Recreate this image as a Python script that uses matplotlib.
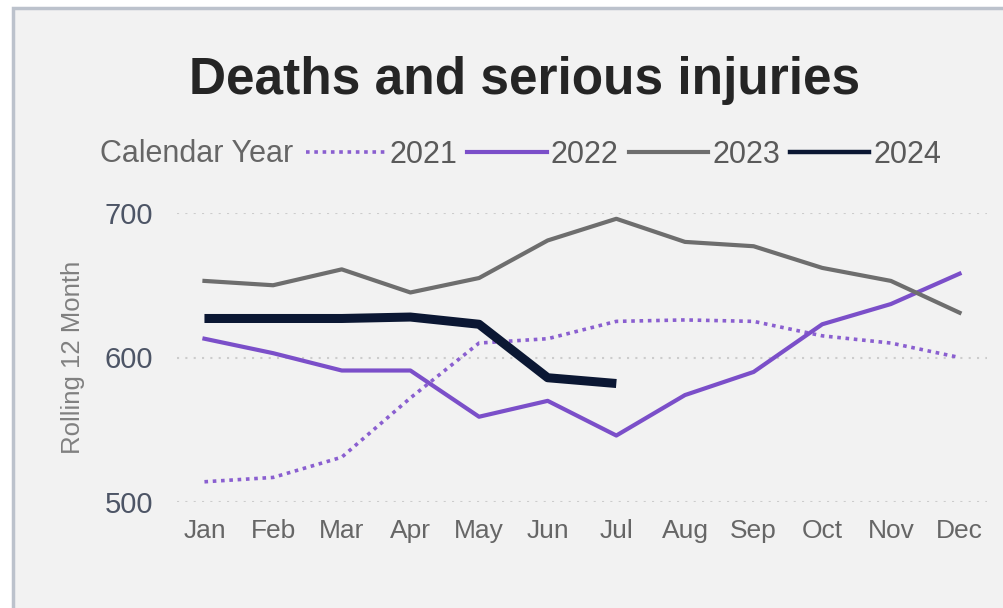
import matplotlib.pyplot as plt
from matplotlib.patches import Rectangle
from matplotlib.lines import Line2D

plt.rcParams['font.family'] = ['Liberation Sans', 'DejaVu Sans']

months = ['Jan', 'Feb', 'Mar', 'Apr', 'May', 'Jun', 'Jul', 'Aug', 'Sep', 'Oct', 'Nov', 'Dec']
y2021 = [514, 517, 531, 572, 610, 613, 625, 626, 625, 615, 610, 600]
y2022 = [613, 603, 591, 591, 559, 570, 546, 574, 590, 623, 637, 658]
y2023 = [653, 650, 661, 645, 655, 681, 696, 680, 677, 662, 653, 631]
y2024 = [627, 627, 627, 628, 623, 586, 582]
years = ['2021', '2022', '2023', '2024']

fig = plt.figure(figsize=(10.04, 6.08), dpi=100)
fig.patch.set_facecolor('white')

# card background with border on left/top
card = Rectangle((13 / 1004, -0.05), 1.05, 1 - 8 / 608 + 0.05,
                 transform=fig.transFigure, facecolor='#f2f2f2',
                 edgecolor='#bcc2cc', linewidth=2.5, zorder=-10)
fig.patches.append(card)

ax = fig.add_axes([177 / 1004, 1 - 502 / 608, (987 - 177) / 1004, (502 - 213) / 608])
ax.set_facecolor('none')

x = list(range(len(months)))
ax.plot(x, y2021, color='#8a5fd0', lw=2.6, linestyle=(0, (1, 1.3)), label='2021')
ax.plot(x, y2022, color='#7b4fc9', lw=3, label='2022')
ax.plot(x, y2023, color='#6e6e6e', lw=3, label='2023')
ax.plot(x[:len(y2024)], y2024, color='#0b1733', lw=6.5, label='2024',
        solid_capstyle='butt')

ax.set_xlim(-0.4, 11.4)
ax.set_ylim(500, 700)
ax.set_yticks([500, 600, 700])
ax.set_xticks(x)
ax.set_xticklabels(months)
ax.tick_params(axis='x', length=0, pad=12, labelsize=19, labelcolor='#666666')
ax.tick_params(axis='y', length=0, pad=17, labelsize=21, labelcolor='#4d5566')
for s in ax.spines.values():
    s.set_visible(False)
ax.grid(axis='y', color='#cccccc', linestyle=(0, (1, 3)), lw=1.5)
ax.set_axisbelow(True)

fig.text(73 / 1004, 1 - 357 / 608, 'Rolling 12 Month', rotation=90, ha='center',
         va='center', fontsize=18.5, color='#808080')

fig.text(0.522, 0.868, 'Deaths and serious injuries', ha='center', va='center',
         fontsize=37, fontweight='bold', color='#252525')

fig.text(100 / 1004, 1 - 154 / 608, 'Calendar Year', ha='left', va='center',
         fontsize=22, color='#666666')
handles = [Line2D([], [], color='#8a5fd0', lw=2.6, linestyle=(0, (1, 1.3))),
           Line2D([], [], color='#7b4fc9', lw=3),
           Line2D([], [], color='#6e6e6e', lw=3),
           Line2D([], [], color='#0b1733', lw=3.2)]
fig.legend(handles, years, loc='center left', bbox_to_anchor=(306 / 1004, 1 - 155 / 608),
           ncol=4, frameon=False, fontsize=22, labelcolor='#5a5a5a',
           handlelength=2.6, handletextpad=0.13, columnspacing=0.33, borderpad=0,
           borderaxespad=0)

fig.savefig('out.png', dpi=100, facecolor=fig.get_facecolor())
